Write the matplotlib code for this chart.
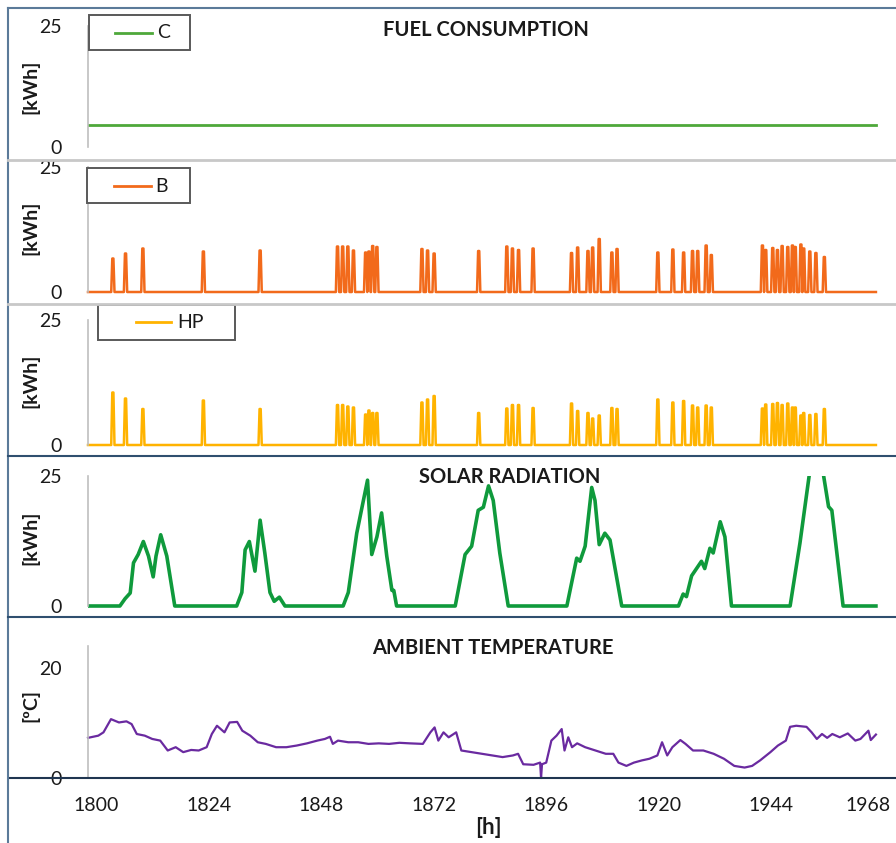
import matplotlib
matplotlib.use("Agg")
import matplotlib.pyplot as plt
from matplotlib.lines import Line2D
from matplotlib.patches import Rectangle
from matplotlib.transforms import Bbox, TransformedBbox, ScaledTranslation

plt.rcParams['font.family'] = ['Lato', 'DejaVu Sans']

# --- data ---
fuel_hours = [1800, 1968]
fuel_c = [4.6, 4.6]

spike_hours = [1805.3, 1808.0, 1811.7, 1824.6, 1836.7,
               1853.2, 1854.3, 1855.4, 1856.6, 1859.2, 1859.9, 1860.7, 1861.6,
               1871.2, 1872.4, 1873.8, 1883.3, 1889.3, 1890.5, 1891.8, 1894.9,
               1903.1, 1904.4, 1906.6, 1907.6, 1909.0, 1911.7, 1912.8,
               1921.5, 1924.7, 1927.0, 1928.9, 1930.0, 1931.8, 1932.9,
               1943.8, 1944.5, 1946.0, 1947.0, 1948.0, 1949.2, 1950.2, 1950.8,
               1952.0, 1952.6, 1953.9, 1955.2, 1957.0]
boiler_b = [6.7, 7.7, 8.7, 8.1, 8.3,
            9.1, 9.1, 9.1, 8.3, 7.9, 8.1, 9.2, 9.0,
            8.6, 8.3, 7.7, 8.2, 9.1, 8.7, 8.4, 8.7,
            7.8, 8.9, 8.2, 8.9, 10.6, 7.9, 8.6,
            7.9, 8.5, 7.9, 8.2, 8.2, 9.3, 7.4,
            9.3, 8.4, 8.8, 8.4, 9.2, 9.0, 9.3, 9.0,
            9.5, 8.7, 8.1, 7.8, 7.0]
heatpump_hp = [10.5, 9.3, 7.2, 8.9, 7.2,
               8.0, 8.0, 7.7, 7.5, 6.1, 6.9, 6.4, 6.4,
               8.5, 9.1, 9.8, 6.4, 7.3, 8.0, 8.0, 7.4,
               8.3, 6.8, 6.4, 5.3, 5.9, 7.4, 7.2,
               9.1, 8.5, 8.8, 7.9, 7.5, 7.9, 7.5,
               7.3, 8.1, 8.2, 8.4, 8.0, 8.3, 7.5, 7.5,
               5.9, 6.4, 6.0, 6.2, 7.2]

solar_hours = [1800, 1806.8, 1807.9, 1809.0, 1809.7, 1810.7, 1811.8, 1812.9, 1813.9, 1814.5,
               1815.5, 1816.8, 1818.5,
               1831.7, 1832.8, 1833.5, 1834.4, 1835.6, 1836.7, 1837.7, 1838.8, 1839.7,
               1840.8, 1842.0,
               1854.4, 1855.5, 1857.3, 1859.6, 1860.5, 1861.6, 1862.6, 1863.7, 1864.8,
               1865.2, 1865.8,
               1878.3, 1880.4, 1881.8, 1883.2, 1884.3, 1885.4, 1886.4, 1887.8, 1889.6,
               1902.1, 1904.2, 1904.9, 1906.0, 1907.4, 1908.1, 1909.0, 1910.2, 1911.3,
               1913.8,
               1925.9, 1926.9, 1927.6, 1928.7, 1930.8, 1931.5, 1932.6, 1933.3, 1934.8,
               1935.8, 1937.2,
               1949.7, 1951.8, 1953.8, 1955.3, 1956.8, 1957.9, 1958.6, 1961.0, 1968]
solar_kwh = [0, 0, 1.4, 2.5, 8.3, 9.9, 12.4, 9.6, 5.6, 9.6,
             13.7, 9.6, 0,
             0, 2.6, 10.8, 12.4, 6.7, 16.5, 10.2, 2.6, 0.9,
             1.7, 0,
             0, 2.6, 14.0, 24.2, 9.9, 13.3, 17.9, 9.6, 3.0,
             3.0, 0,
             0, 9.9, 11.5, 18.4, 19.0, 23.1, 20.3, 10.2, 0,
             0, 9.2, 8.6, 11.5, 22.8, 20.3, 11.8, 14.0, 12.7,
             0,
             0, 2.3, 1.8, 5.8, 8.6, 7.2, 11.1, 10.2, 16.2,
             13.3, 0,
             0, 12.1, 25.3, 30.0, 25.3, 19.1, 18.4, 0, 0]

temp_hours = [1800, 1802.2, 1803.3, 1804.9, 1806.6, 1808.2, 1809.3, 1810.4, 1812.1, 1813.7,
              1815.4, 1817.0, 1818.7, 1820.3, 1822.0, 1823.6, 1825.3, 1826.4, 1827.5, 1829.1,
              1830.2, 1831.8, 1832.9, 1834.6, 1836.2, 1837.9, 1840.1, 1842.3, 1844.5, 1846.7,
              1848.9, 1850.5, 1851.6, 1852.2, 1853.3, 1855.5, 1857.6, 1859.8, 1862.0, 1864.2,
              1866.4, 1868.6, 1871.4, 1873.0, 1873.9, 1874.7, 1875.8, 1876.9, 1878.5, 1879.6,
              1881.8, 1884.0, 1886.2, 1888.4, 1890.6, 1891.7, 1892.8, 1895.0, 1896.4, 1896.6,
              1896.8, 1897.7, 1898.8, 1899.9, 1901.0, 1901.6, 1902.4, 1903.2, 1904.3, 1906.0,
              1908.2, 1910.4, 1912.0, 1913.1, 1914.8, 1916.4, 1918.1, 1919.7, 1921.4, 1922.4,
              1923.5, 1924.6, 1926.3, 1927.4, 1929.0, 1931.2, 1933.4, 1935.6, 1937.8, 1940.0,
              1941.6, 1943.3, 1945.5, 1947.1, 1948.8, 1949.7, 1951.0, 1953.2, 1954.3, 1955.4,
              1956.5, 1957.6, 1958.7, 1960.3, 1962.0, 1963.6, 1964.7, 1966.4, 1966.9, 1968.0]
temp_c = [7.3, 7.7, 8.3, 10.7, 10.1, 10.3, 9.8, 8.0, 7.7, 7.1,
          6.8, 5.0, 5.6, 4.7, 5.1, 5.0, 5.6, 8.0, 9.5, 8.3,
          10.1, 10.2, 8.6, 7.7, 6.5, 6.2, 5.6, 5.6, 5.9, 6.3,
          6.8, 7.1, 7.5, 6.2, 6.8, 6.5, 6.5, 6.2, 6.3, 6.2,
          6.4, 6.3, 6.2, 8.3, 9.2, 6.8, 8.3, 7.4, 8.3, 5.0,
          4.7, 4.4, 4.1, 3.8, 4.1, 4.4, 2.5, 2.4, 2.8, 0.0,
          2.5, 2.8, 6.8, 7.7, 8.9, 5.0, 7.4, 5.6, 6.3, 5.6,
          5.0, 4.4, 4.4, 2.8, 2.2, 2.8, 3.2, 3.5, 4.1, 6.5,
          4.1, 5.6, 6.9, 6.2, 5.0, 5.0, 4.4, 3.5, 2.2, 1.9,
          2.2, 3.2, 4.7, 5.9, 6.8, 9.3, 9.5, 9.3, 8.3, 7.1,
          8.0, 7.3, 8.0, 7.4, 8.1, 6.8, 7.1, 8.6, 6.9, 7.9]

x_ticks = [1800, 1824, 1848, 1872, 1896, 1920, 1944, 1968]

W, H = 896, 843
XMIN, XMAX = 1800, 1971


def spike_line(hours, vals):
    xs, ys = [1800], [0]
    for h, v in zip(hours, vals):
        xs += [h - 0.35, h - 0.12, h + 0.12, h + 0.35]
        ys += [0, v, v, 0]
    xs.append(1968)
    ys.append(0)
    return xs, ys


fig = plt.figure(figsize=(W / 100, H / 100), dpi=100)


def panel(top, bottom, ymax, yticks):
    ax = fig.add_axes([88 / W, 1 - bottom / H, (890 - 88) / W, (bottom - top) / H])
    ax.set_xlim(XMIN, XMAX)
    ax.set_ylim(0, ymax)
    ax.set_yticks(yticks)
    ax.set_xticks([])
    for s in ['top', 'right', 'bottom']:
        ax.spines[s].set_visible(False)
    ax.spines['left'].set_color('#bfbfbf')
    ax.spines['left'].set_linewidth(1.2)
    ax.tick_params(axis='y', length=0, pad=19, labelsize=14, labelcolor='#1a1a1a')
    ax.patch.set_alpha(0)
    return ax


def legend_box(x0, y0, x1, y1, lx0, lx1, ly, tx, label, color):
    fig.add_artist(Rectangle((x0 / W, 1 - y1 / H), (x1 - x0) / W, (y1 - y0) / H,
                             transform=fig.transFigure, facecolor='white',
                             edgecolor='#595959', lw=1.4))
    fig.add_artist(Line2D([lx0 / W, lx1 / W], [1 - ly / H, 1 - ly / H],
                          transform=fig.transFigure, color=color, lw=2))
    fig.text(tx / W, 1 - ly / H, label, ha='left', va='center', fontsize=14,
             color='#1a1a1a')


def hline(y, x0, x1, color, lw):
    fig.add_artist(Line2D([x0 / W, x1 / W], [1 - y / H, 1 - y / H],
                          transform=fig.transFigure, color=color, lw=lw))


# panel 1: fuel C
ax1 = panel(26, 147, 25, [0, 25])
ax1.plot(fuel_hours, fuel_c, color='#4ea83a', lw=2)

# panel 2: B
ax2 = panel(167, 292, 25, [0, 25])
xs, ys = spike_line(spike_hours, boiler_b)
ax2.plot(xs, ys, color='#f26a1b', lw=1.8, clip_on=False)

# panel 3: HP
ax3 = panel(320, 445, 25, [0, 25])
xs, ys = spike_line(spike_hours, heatpump_hp)
ax3.plot(xs, ys, color='#ffb300', lw=1.8, clip_on=False)

# panel 4: solar
ax4 = panel(476, 606, 25, [0, 25])
ln, = ax4.plot(solar_hours, solar_kwh, color='#0f9a3c', lw=2.6)
ln.set_clip_box(TransformedBbox(Bbox([[0, -0.1], [1, 1]]), ax4.transAxes))

# panel 5: ambient temperature
ax5 = panel(646, 778, 24, [0, 20])
ax5.plot(temp_hours, temp_c, color='#6a2aa0', lw=1.6, clip_on=False)
ax5.set_xticks(x_ticks)
ax5.tick_params(axis='x', length=0, pad=14, labelsize=14, labelcolor='#1a1a1a')
# excel-like label placement: labels sit a little right of the tick, last one pulled in
for i, lbl in enumerate(ax5.get_xticklabels()):
    dx = -8 if i == len(x_ticks) - 1 else 8
    lbl.set_transform(lbl.get_transform() + ScaledTranslation(dx / 100, 0, fig.dpi_scale_trans))

# panel frames
hline(8, 8, 896, '#5b7a99', 1.5)
fig.add_artist(Line2D([8 / W, 8 / W], [1 - 8 / H, 0], transform=fig.transFigure,
                      color='#5b7a99', lw=1.5))
hline(160, 8, 896, '#c8c8c8', 2)
hline(304, 8, 896, '#c8c8c8', 2)
hline(456, 8, 896, '#2f4f6f', 1.5)
hline(617, 8, 896, '#2f4f6f', 1.5)
hline(778, 10, 896, '#1f3550', 1.5)

# titles and axis labels
title_kw = dict(ha='center', va='center', fontsize=14.5, fontweight='bold', color='#1a1a1a')
fig.text(486 / W, 1 - 30 / H, 'FUEL CONSUMPTION', **title_kw)
fig.text(510 / W, 1 - 477 / H, 'SOLAR RADIATION', **title_kw)
fig.text(493 / W, 1 - 648 / H, 'AMBIENT TEMPERATURE', **title_kw)

ylab_kw = dict(ha='center', va='center', rotation=90, fontsize=14, fontweight='bold',
               color='#1a1a1a')
for yc, lab in [(87, '[kWh]'), (228, '[kWh]'), (381, '[kWh]'), (538, '[kWh]'), (705, '[ºC]')]:
    fig.text(30 / W, 1 - yc / H, lab, **ylab_kw)
fig.text(488 / W, 1 - 828 / H, '[h]', ha='center', va='center', fontsize=16,
         fontweight='bold', color='#1a1a1a')

# legends
legend_box(89, 15, 190, 50, 115, 152, 33, 157, 'C', '#4ea83a')
legend_box(87, 168, 190, 203, 114, 151, 186, 155, 'B', '#f26a1b')
legend_box(98, 305, 235, 340, 136, 171, 322, 177, 'HP', '#ffb300')

fig.savefig('out.png', dpi=100)
